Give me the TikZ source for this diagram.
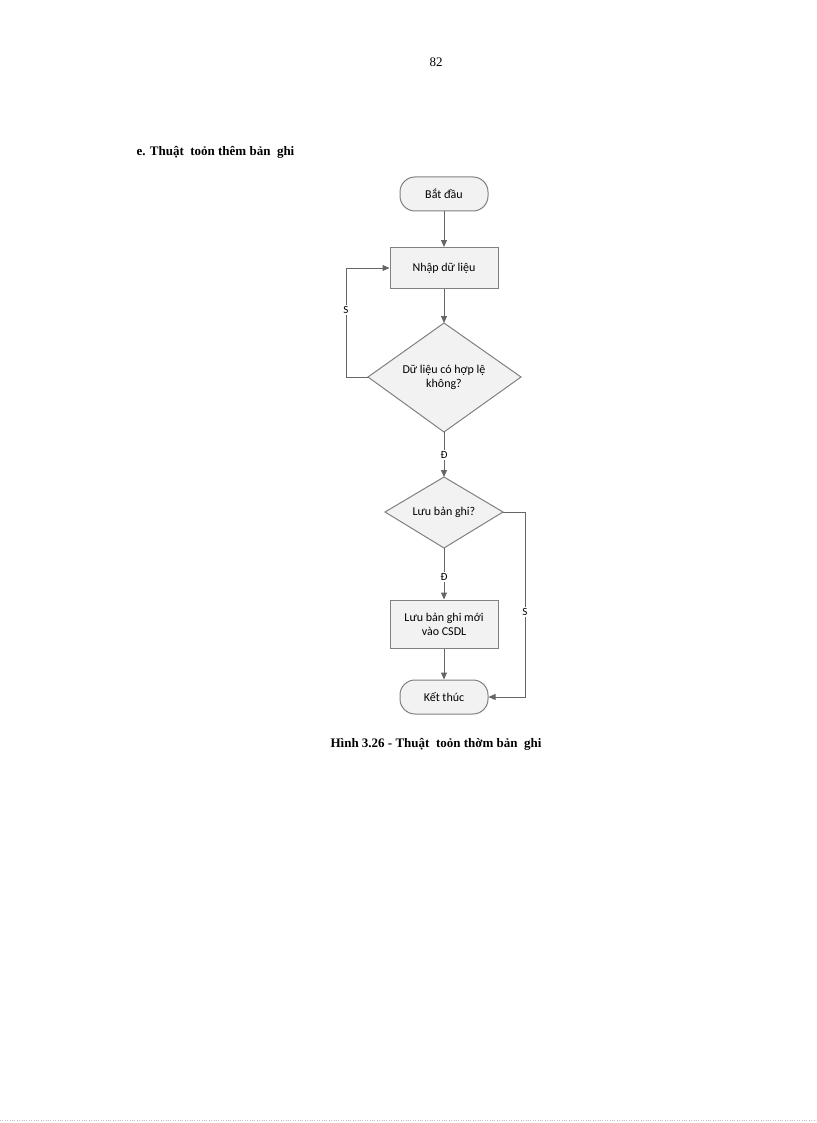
\documentclass[tikz,border=0pt]{standalone}
\usepackage{fontspec}
\setmainfont{Liberation Serif}
\newfontfamily\calfont{Carlito}
\usetikzlibrary{shapes.geometric,arrows.meta}
\definecolor{bd}{HTML}{808080}
\definecolor{fl}{HTML}{F2F2F2}
\tikzset{
 base/.style={draw=bd,fill=fl,line width=1pt,font=\calfont\fontsize{12}{14}\selectfont,align=center,inner sep=0pt},
 term/.style={base,rounded corners=15pt,minimum width=88pt,minimum height=34pt},
 proc/.style={base,minimum width=108pt,minimum height=41pt},
 arr/.style={draw=bd!80!black,line width=1pt,-{Triangle[length=7pt,width=6pt]}},
 lbl/.style={font=\calfont\fontsize{11}{13}\selectfont,fill=white,inner sep=1pt}
}
\begin{document}
\begin{tikzpicture}[x=1pt,y=-1pt]
\useasboundingbox (0,0) rectangle (816,1123);
\node (pg) at (436,62) {\fontsize{13}{15}\selectfont 82};
\node[anchor=west] (hd) at (133,152) {\fontsize{13}{15}\selectfont\bfseries e. Thuật\ \ toỏn thêm bản\ \ ghi};
\node (cap) at (436,744) {\fontsize{13}{15}\selectfont\bfseries Hình 3.26 - Thuật\ \ toỏn thờm bản\ \ ghi};
\node[term] (s) at (444,194) {Bắt đầu};
\node[proc] (n) at (444,268) {Nhập dữ liệu};
\draw[base,fill=fl] (368,377) -- (444,323) -- (521,377) -- (444,432) -- cycle;
\node[base,draw=none,fill=none] (d1) at (444,377) {Dữ liệu có hợp lệ\\không?};
\coordinate (d1l) at (368,377); \coordinate (d1b) at (444,432);
\draw[base,fill=fl] (385,512) -- (444,477) -- (503,512) -- (444,548) -- cycle;
\node[base,draw=none,fill=none] (d2) at (444,512) {Lưu bản ghi?};
\coordinate (d2t) at (444,477); \coordinate (d2r) at (503,512); \coordinate (d2b) at (444,548);
\coordinate (d1t) at (444,323);
\node[proc,minimum height=48pt] (l) at (444,624) {Lưu bản ghi mới\\vào CSDL};
\node[term] (e) at (444,697) {Kết thúc};
\draw[arr] (s) -- (n);
\draw[arr] (n) -- (d1t);
\draw[arr] (d1l) -- (346,377) -- (346,268) -- (n.west);
\node[lbl] (s1) at (346,310) {S};
\draw[arr] (d1b) -- (d2t);
\node[lbl] (y1) at (444,455) {Đ};
\draw[arr] (d2b) -- (l);
\node[lbl] (y2) at (444,577) {Đ};
\draw[arr] (l) -- (e);
\draw[arr] (d2r) -- (525,512) -- (525,697) -- (e.east);
\node[lbl] (s2) at (525,612) {S};
\draw[dotted,gray!50] (0,1120) -- (816,1120);
\end{tikzpicture}
\end{document}
